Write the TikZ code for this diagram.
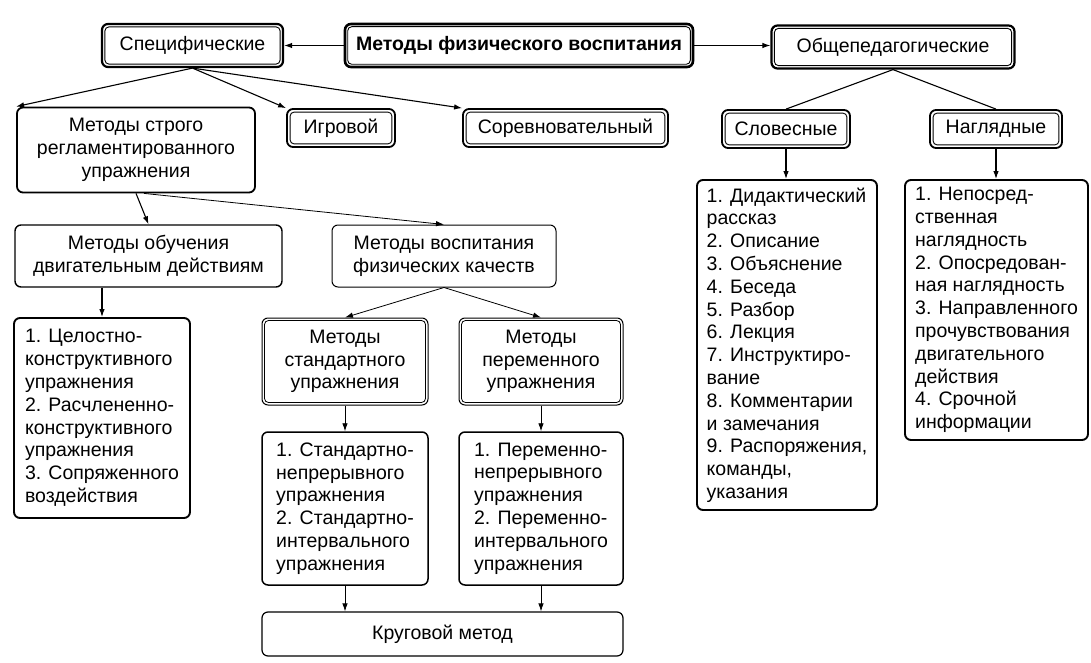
\documentclass[tikz,border=0pt]{standalone}
\usepackage{fontspec}
\setmainfont{Liberation Sans}
\usetikzlibrary{arrows.meta}
\begin{document}
\begin{tikzpicture}[x=1pt,y=-1pt,
  font=\fontsize{19.5}{22.8}\selectfont,
  box/.style={draw, rounded corners=6pt, inner sep=0pt, line width=1.5pt, align=center},
  listbox/.style={box, line width=1.9pt, align=left},
  dblA/.style={box, line width=2.2pt},
  dblB/.style={box, line width=1.8pt},
  dblC/.style={box, line width=1.0pt},
  innerA/.style={draw, line width=0.9pt, rounded corners=4pt},
  innerC/.style={draw, line width=0.8pt, rounded corners=4pt},
  arr/.style={-{Latex[length=8pt,width=5.5pt]}, line width=1.1pt},
  ln/.style={line width=1.1pt}
]
\fill[white] (0,0) rectangle (1091,663);
\useasboundingbox (0,0) rectangle (1091,663);

% top row
\node[dblA, minimum width=181pt, minimum height=43pt] (spec) at (192.5,45.5) {Специфические};
\node[dblA, line width=2.6pt, font=\fontsize{19.5}{22.8}\selectfont\bfseries, minimum width=348pt, minimum height=43pt] (title) at (519,45.5) {Методы физического воспитания};
\node[dblA, minimum width=243pt, minimum height=43pt] (obsh) at (893,47) {Общепедагогические};

% second row
\node[box, line width=1.8pt, minimum width=238pt, minimum height=85pt] (strogo) at (136,150) {Методы строго\\регламентированного\\упражнения};
\node[dblB, minimum width=108pt, minimum height=38pt] (igr) at (341,128) {Игровой};
\node[dblB, minimum width=205pt, minimum height=38pt] (sor) at (565.5,128) {Соревновательный};
\node[dblB, minimum width=128pt, minimum height=38pt] (slov) at (786,129) {Словесные};
\node[dblB, minimum width=132pt, minimum height=38pt] (nagl) at (996,129) {Наглядные};

% lists on the right
\node[listbox, minimum width=180pt, minimum height=330pt] (slovlist) at (787,345) {1. Дидактический\\рассказ\\2. Описание\\3. Объяснение\\4. Беседа\\5. Разбор\\6. Лекция\\7. Инструктиро-\\вание\\8. Комментарии\\и замечания\\9. Распоряжения,\\команды,\\указания};
\node[listbox, minimum width=183pt, minimum height=260pt] (nagllist) at (996.5,310) {1. Непосред-\\ственная\\наглядность\\2. Опосредован-\\ная наглядность\\3. Направленного\\прочувствования\\двигательного\\действия\\4. Срочной\\информации};

% third row
\node[box, line width=1.4pt, minimum width=267pt, minimum height=62pt] (obuch) at (148.5,256) {Методы обучения\\двигательным действиям};
\node[box, line width=1.0pt, minimum width=224pt, minimum height=62pt] (vosp) at (444,256) {Методы воспитания\\физических качеств};

\node[listbox, minimum width=176pt, minimum height=200pt] (list1) at (102,418) {1. Целостно-\\конструктивного\\упражнения\\2. Расчлененно-\\конструктивного\\упражнения\\3. Сопряженного\\воздействия};

\node[dblC, minimum width=166pt, minimum height=87pt] (std) at (345,361.5) {Методы\\стандартного\\упражнения};
\node[dblC, minimum width=164pt, minimum height=87pt] (per) at (541,361.5) {Методы\\переменного\\упражнения};

\node[listbox, line width=1.5pt, minimum width=166pt, minimum height=153pt] (stdlist) at (345,508.5) {1. Стандартно-\\непрерывного\\упражнения\\2. Стандартно-\\интервального\\упражнения};
\node[listbox, line width=1.5pt, minimum width=164pt, minimum height=153pt] (perlist) at (541,508.5) {1. Переменно-\\непрерывного\\упражнения\\2. Переменно-\\интервального\\упражнения};

\node[box, line width=1.2pt, minimum width=361pt, minimum height=44pt] (krug) at (442.5,634) {Круговой метод};

% inner lines of double boxes
\foreach \n in {spec,title,obsh,igr,sor,slov,nagl}
  \draw[innerA] ([shift={(4pt,-4pt)}]\n.north west) rectangle ([shift={(-4pt,4pt)}]\n.south east);
\foreach \n in {std,per}
  \draw[innerC] ([shift={(3pt,-3pt)}]\n.north west) rectangle ([shift={(-3pt,3pt)}]\n.south east);

% connectors
\draw[arr] (title.west) -- (spec.east);
\draw[arr] (title.east) -- (title.east -| obsh.west);
\draw[arr] (spec.south) -- (strogo.north west);
\draw[arr] (spec.south) -- (igr.north west);
\draw[arr] (spec.south) -- (sor.north west);
\draw[ln] (obsh.south) -- (slov.north);
\draw[ln] (obsh.south) -- (nagl.north);
\draw[arr] (slov.south) -- (slovlist.north -| slov.south);
\draw[arr] (nagl.south) -- (nagllist.north -| nagl.south);
\draw[arr] (strogo.south) -- (obuch.north);
\draw[arr, line width=0.8pt] ([xshift=8pt]strogo.south) -- (vosp.north);
\draw[arr] (obuch.south -| list1.north) -- (list1.north);
\draw[arr, line width=0.8pt] (vosp.south) -- (std.north);
\draw[arr, line width=0.8pt] (vosp.south) -- (per.north);
\draw[arr, line width=0.8pt] (std.south) -- (stdlist.north);
\draw[arr, line width=0.8pt] (per.south) -- (perlist.north);
\draw[arr, line width=0.8pt] (stdlist.south) -- (stdlist.south |- krug.north);
\draw[arr, line width=0.8pt] (perlist.south) -- (perlist.south |- krug.north);
\end{tikzpicture}
\end{document}
